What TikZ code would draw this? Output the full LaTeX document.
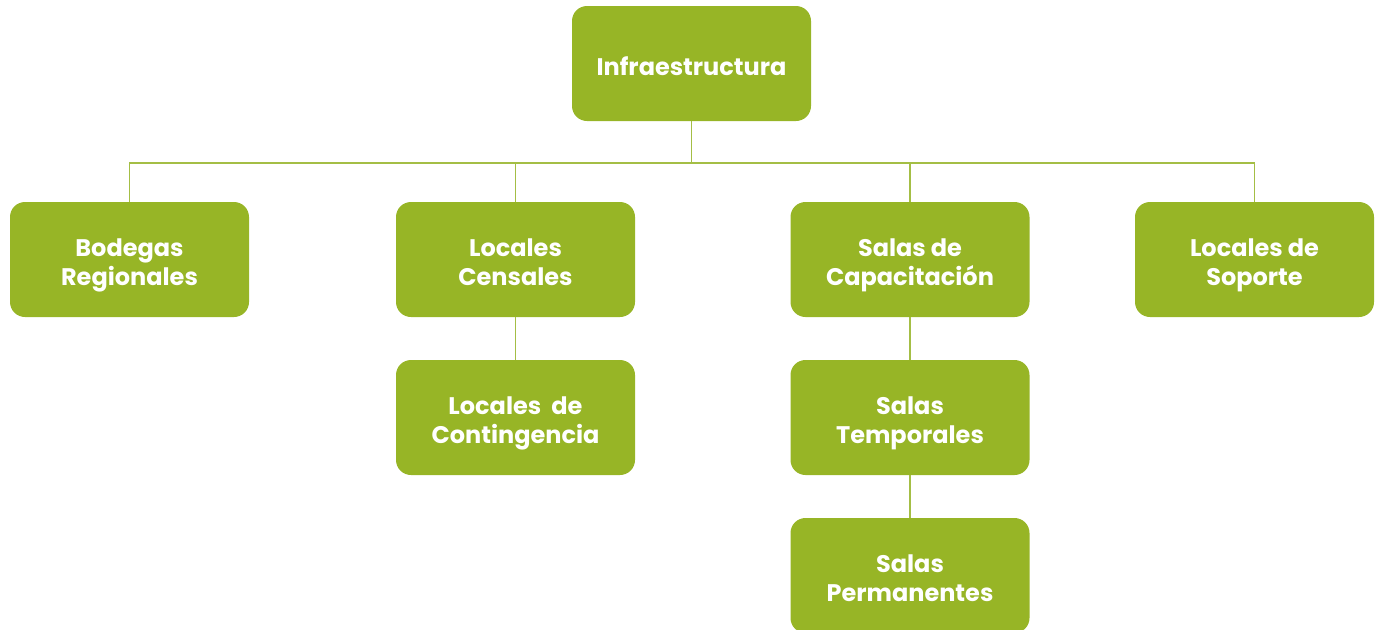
\documentclass[tikz,border=0pt]{standalone}
\usepackage{fontspec}
\setmainfont{Poppins}[BoldFont={* Bold}]
\definecolor{boxgreen}{HTML}{97B526}
\definecolor{linegreen}{HTML}{A4BE45}
\begin{document}
\begin{tikzpicture}[x=0.75pt,y=-0.75pt,
  orgbox/.style={fill=boxgreen, draw=none, rounded corners=11.25pt,
    minimum width=179.25pt, minimum height=86.25pt, inner sep=0pt},
  orgtext/.style={align=center, text=white, inner sep=0pt,
    font=\bfseries\fontsize{18}{21.75}\selectfont},
  link/.style={draw=linegreen, line width=1.2pt}]
\useasboundingbox (0,0) rectangle (1379,629);
\newcommand{\orgnode}[3]{%
  \node[orgbox] (#1) at #2 {};
  \node[orgtext] (#1-t) at ([yshift=-4.5pt]#1.center) {#3};}
\orgnode{infra}{(691.5,63.5)}{\strut Infraestructura}
\orgnode{bod}{(129.5,259.5)}{\strut Bodegas\\\strut Regionales}
\orgnode{cen}{(515.5,259.5)}{\strut Locales\\\strut Censales}
\orgnode{cap}{(910,259.5)}{\strut Salas de\\\strut Capacitación}
\orgnode{sop}{(1254.5,259.5)}{\strut Locales de\\\strut Soporte}
\orgnode{con}{(515.5,417.5)}{\strut Locales~~de\\\strut Contingencia}
\orgnode{tem}{(910,417.5)}{\strut Salas\\\strut Temporales}
\orgnode{per}{(910,575.5)}{\strut Salas\\\strut Permanentes}
\draw[link] (infra.south) -- ++(0,42) coordinate (bus) -| (bod.north);
\draw[link] (bus) -| (cen.north);
\draw[link] (bus) -| (cap.north);
\draw[link] (bus) -| (sop.north);
\draw[link] (cen.south) -- (con.north);
\draw[link] (cap.south) -- (tem.north);
\draw[link] (tem.south) -- (per.north);
\end{tikzpicture}
\end{document}
